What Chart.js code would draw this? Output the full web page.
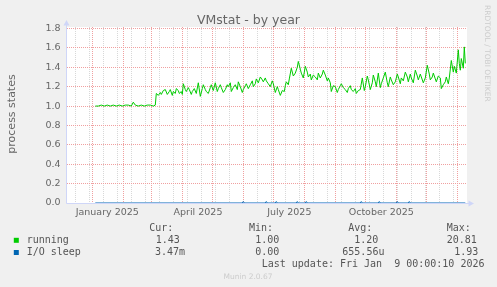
<!DOCTYPE html>
<html>
<head>
<meta charset="utf-8">
<script src="https://cdn.jsdelivr.net/npm/chart.js@4.4.0/dist/chart.umd.min.js"></script>
<style>
  html, body { margin: 0; padding: 0; background: #f0f0f0; }
  canvas { display: block; }
</style>
</head>
<body>
<canvas id="myChart" width="497" height="287" style="width:497px;height:287px"></canvas>
<script>
// days are counted from 1 Jan 2025 (day 0)
const titulo = 'VMstat - by year';
const ejeY = 'process states';

// running
const runDays = [3,6,9,12,15,18,21,24,27,30,33,36,39,41,43,46,49,52,55,58,61,63,
  64,66,68,69,71,73,75,77,78,80,81,83,84,86,87,89,90,91,93,94,96,97,99,100,102,
  104,106,108,110,111,113,114,116,118,119,
  121,123,125,126,128,129,131,133,135,136,
  138,139,141,143,145,146,148,150,151,153,
  154,156,158,160,161,163,164,166,168,170,
  171,173,174,176,178,180,181,183,185,186,
  188,190,192,193,194,196,197,199,201,203,
  205,206,208,209,211,213,215,216,218,219,
  221,223,225,226,228,230,231,233,235,236,
  238,239,241,243,245,246,248,249,251,253,
  255,256,258,259,261,263,264,266,268,270,
  272,273,275,276,278,280,281,283,284,286,
  288,289,291,293,295,296,298,299,301,303,
  305,306,308,309,311,313,315,316,318,319,
  321,323,325,326,328,329,331,333,335,337,
  338,340,341,343,344,346,348,349,351,353,
  354,356,357,359,361,362,364,366,367,368,
  369,371,372,373];
const runValues = [1.00,1.00,1.01,1.00,1.01,1.00,1.01,1.00,1.01,1.00,1.01,1.01,1.00,1.04,1.01,1.00,1.01,1.00,1.01,1.01,1.00,1.01,
  1.13,1.11,1.14,1.12,1.16,1.17,1.12,1.15,1.17,1.11,1.15,1.13,1.18,1.16,1.13,1.15,1.12,1.23,1.17,1.15,1.19,1.17,1.12,1.15,1.18,
  1.13,1.24,1.10,1.18,1.22,1.17,1.15,1.13,1.19,1.22,
  1.16,1.24,1.15,1.18,1.22,1.19,1.14,1.17,1.22,1.20,
  1.24,1.15,1.19,1.22,1.17,1.25,1.20,1.14,1.17,1.21,
  1.23,1.18,1.22,1.26,1.20,1.23,1.28,1.24,1.30,1.27,
  1.25,1.29,1.26,1.23,1.20,1.26,1.23,1.14,1.20,1.17,
  1.11,1.16,1.15,1.21,1.25,1.22,1.28,1.39,1.31,1.34,
  1.40,1.46,1.38,1.34,1.29,1.41,1.35,1.30,1.33,1.27,
  1.32,1.30,1.27,1.34,1.29,1.33,1.37,1.32,1.26,1.29,
  1.24,1.15,1.21,1.20,1.14,1.17,1.21,1.23,1.19,1.17,
  1.14,1.18,1.21,1.17,1.15,1.18,1.13,1.16,1.17,1.29,
  1.16,1.20,1.31,1.27,1.17,1.24,1.32,1.25,1.20,1.34,
  1.19,1.23,1.29,1.35,1.24,1.20,1.30,1.27,1.22,1.25,
  1.33,1.30,1.23,1.29,1.26,1.35,1.30,1.25,1.33,1.29,
  1.24,1.37,1.31,1.27,1.33,1.30,1.24,1.29,1.42,1.33,
  1.27,1.30,1.34,1.28,1.25,1.31,1.29,1.18,1.22,1.25,
  1.30,1.23,1.29,1.47,1.35,1.41,1.34,1.58,1.44,1.37,
  1.49,1.39,1.61,1.44];

// I/O sleep: almost always 0, a few tiny blips
const ioDays = [3,150,151,152,173,174,175,183,184,185,204,205,206,213,214,215,268,269,270,
  286,287,288,304,305,306,316,317,318,373];
const ioValues = [0,0,0.015,0,0,0.015,0,0,0.015,0,0,0.015,0,0,0.015,0,0,0.015,0,
  0,0.015,0,0,0.015,0,0,0.015,0,0];

// axis
const xMin = -25.3, xMax = 374.7;
const yMax = 1.8155;
const monthStarts = ['2025-01-01','2025-02-01','2025-03-01','2025-04-01','2025-05-01','2025-06-01',
  '2025-07-01','2025-08-01','2025-09-01','2025-10-01','2025-11-01','2025-12-01','2026-01-01'];
const monthLabels = ['January 2025', 'April 2025', 'July 2025', 'October 2025'];
const labelDates = ['2025-01-16', '2025-04-16.7', '2025-07-17', '2025-10-17'];
const yTicks = [0,0.1,0.2,0.3,0.4,0.5,0.6,0.7,0.8,0.9,1.0,1.1,1.2,1.3,1.4,1.5,1.6,1.7,1.8];

// leyenda
const statHeaders = ['Cur:', 'Min:', 'Avg:', 'Max:'];
const seriesNames = ['running', 'I/O sleep'];
const runningStats = ['1.43', '1.00', '1.20', '20.81'];
const ioStats = ['3.47m', '0.00', '655.56u', '1.93'];
const lastUpdate = 'Last update: Fri Jan  9 00:00:10 2026';

function dia(str) {
  const parts = str.split('-');
  const d = parseFloat(parts[2]);
  const t = Date.UTC(+parts[0], +parts[1] - 1, Math.floor(d));
  return (t - Date.UTC(2025, 0, 1)) / 86400000 + (d - Math.floor(d));
}

const rojos = monthStarts.map(dia);
const grises = [];
for (let d = dia('2024-12-15'); d <= xMax; d += 14) grises.push(d);
const etiquetas = labelDates.map(dia);

const xTicks = [];
rojos.forEach(v => xTicks.push({ value: v, tipo: 'rojo' }));
grises.forEach(v => xTicks.push({ value: v, tipo: 'gris' }));
etiquetas.forEach((v, i) => xTicks.push({ value: v, tipo: 'label', texto: monthLabels[i] }));
xTicks.sort((a, b) => a.value - b.value);

const ROJO = '#f0a0a0';
const GRIS = '#d8d8d8';
const EJE = '#CFD6F8';
const FUENTE = '#666666';

function tipoDe(v) {
  const t = xTicks.find(k => Math.abs(k.value - v) < 1e-6);
  return t || null;
}

const fondo = {
  id: 'fondo',
  beforeDraw(chart) {
    const c = chart.ctx;
    const a = chart.chartArea;
    c.save();
    c.fillStyle = '#f0f0f0';
    c.fillRect(0, 0, chart.width, chart.height);
    c.fillStyle = '#ffffff';
    c.fillRect(a.left, a.top, a.right - a.left, a.bottom - a.top);
    c.restore();
  },
  beforeDatasetsDraw(chart) {
    const c = chart.ctx;
    const a = chart.chartArea;
    const x0 = Math.round(a.left) - 0.5;
    const y0 = Math.round(a.bottom) + 0.5;
    c.save();
    c.strokeStyle = EJE;
    c.fillStyle = EJE;
    c.lineWidth = 1;
    c.beginPath();
    c.moveTo(x0, y0);
    c.lineTo(x0, a.top - 2);
    c.moveTo(x0, y0);
    c.lineTo(a.right + 3, y0);
    c.stroke();
    // flechas
    c.beginPath();
    c.moveTo(x0 - 3, a.top - 1.5);
    c.lineTo(x0 + 3, a.top - 1.5);
    c.lineTo(x0, a.top - 7);
    c.closePath();
    c.fill();
    c.beginPath();
    c.moveTo(a.right + 1.5, y0 - 3);
    c.lineTo(a.right + 1.5, y0 + 3);
    c.lineTo(a.right + 7, y0);
    c.closePath();
    c.fill();
    c.restore();
  },
  afterDraw(chart) {
    const c = chart.ctx;
    c.save();
    // titulo
    c.fillStyle = FUENTE;
    c.font = '12.5px "DejaVu Sans"';
    c.textAlign = 'center';
    c.textBaseline = 'alphabetic';
    c.fillText(titulo, 248.5, 24);

    // eje y
    c.save();
    c.font = '11px "DejaVu Sans"';
    c.translate(15, 114);
    c.rotate(-Math.PI / 2);
    c.fillText(ejeY, 0, 0);
    c.restore();

    // rrdtool
    c.save();
    c.fillStyle = '#cccccc';
    c.font = '7.5px "DejaVu Sans"';
    c.translate(484.8, 53.3);
    c.rotate(Math.PI / 2);
    c.fillText('RRDTOOL / TOBI OETIKER', 0, 0);
    c.restore();

    c.fillStyle = '#cccccc';
    c.font = '7.5px "DejaVu Sans"';
    c.fillText('Munin 2.0.67', 248, 278.7);

    // leyenda
    c.textAlign = 'left';
    c.fillStyle = '#555555';
    c.font = '10px "DejaVu Sans Mono"';
    const hx = [149.3, 249, 348.3, 446.7];
    statHeaders.forEach((h, i) => c.fillText(h, hx[i], 230.5));

    const filas = [
      { nombre: seriesNames[0], color: '#00cc00', y: 242.8, stats: runningStats, xs: [155.7, 255.3, 354.3, 446.7] },
      { nombre: seriesNames[1], color: '#0066b3', y: 255, stats: ioStats, xs: [155, 255.3, 342.3, 454.3] }
    ];
    filas.forEach(f => {
      c.fillStyle = f.color;
      c.fillRect(13.8, f.y - 5, 5, 5);
      c.fillStyle = '#555555';
      c.fillText(f.nombre, 26.7, f.y);
      f.stats.forEach((s, i) => c.fillText(s, f.xs[i], f.y));
    });
    c.fillText(lastUpdate, 261.7, 267.2);
    c.restore();
  }
};

const ctx = document.getElementById('myChart').getContext('2d');

const myChart = new Chart(ctx, {
  type: 'line',
  data: {
    datasets: [{
      label: 'I/O sleep',
      data: ioDays.map((d, i) => ({ x: d, y: ioValues[i] })),
      borderColor: '#0066b3',
      borderWidth: 1,
      pointRadius: 0,
      tension: 0,
      fill: false
    }, {
      label: 'running',
      data: runDays.map((d, i) => ({ x: d, y: runValues[i] })),
      borderColor: '#00cc00',
      borderWidth: 1,
      pointRadius: 0,
      tension: 0,
      fill: false
    }]
  },
  options: {
    responsive: false,
    animation: false,
    devicePixelRatio: 1,
    layout: { padding: { left: 0, top: 27, right: 30, bottom: 64 } },
    plugins: {
      legend: { display: false },
      title: { display: false },
      tooltip: { enabled: false }
    },
    scales: {
      x: {
        type: 'linear',
        min: xMin,
        max: xMax,
        afterBuildTicks: (scale) => { scale.ticks = xTicks.map(t => ({ value: t.value })); },
        afterFit: (scale) => { scale.height = 20; },
        grid: {
          drawTicks: false,
          lineWidth: 1,
          color: (c) => {
            const t = c.tick ? tipoDe(c.tick.value) : null;
            if (!t) return 'rgba(0,0,0,0)';
            if (t.tipo === 'rojo') return ROJO;
            if (t.tipo === 'gris') return GRIS;
            return 'rgba(0,0,0,0)';
          },
          borderDash: [1, 1]
        },
        border: { display: false, dash: [1, 1] },
        ticks: {
          autoSkip: false,
          maxRotation: 0,
          padding: 4,
          color: FUENTE,
          font: { family: '"DejaVu Sans"', size: 9.5 },
          callback: (v) => {
            const t = tipoDe(v);
            return (t && t.tipo === 'label') ? t.texto : '';
          }
        }
      },
      y: {
        min: 0,
        max: yMax,
        afterBuildTicks: (scale) => { scale.ticks = yTicks.map(v => ({ value: v })); },
        afterFit: (scale) => { scale.width = 67; },
        grid: {
          drawTicks: false,
          lineWidth: 1,
          color: (c) => (Math.round(c.tick.value * 10) % 2 === 0) ? ROJO : GRIS,
          borderDash: [1, 1]
        },
        border: { display: false, dash: [1, 1] },
        ticks: {
          padding: 6.5,
          color: FUENTE,
          font: { family: '"DejaVu Sans"', size: 9.5 },
          callback: (v) => (Math.round(v * 10) % 2 === 0) ? v.toFixed(1) : ''
        }
      }
    }
  },
  plugins: [fondo]
});
</script>
</body>
</html>
